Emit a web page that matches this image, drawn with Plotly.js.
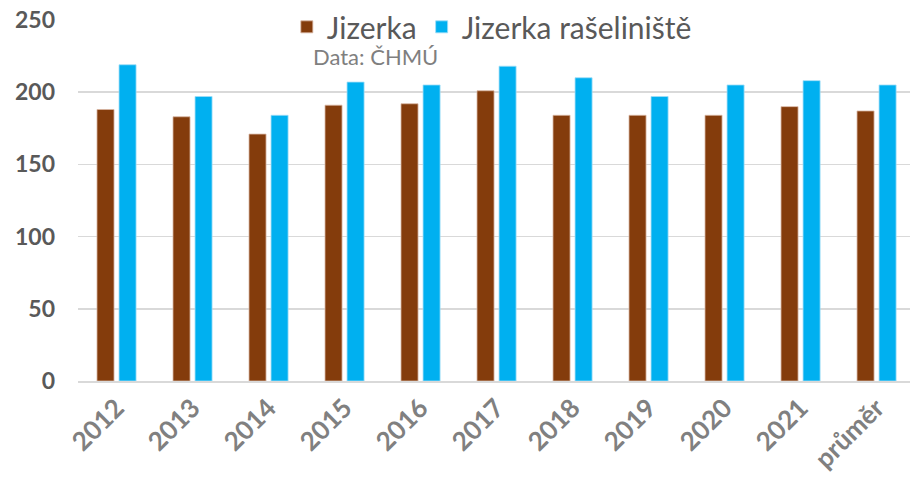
<!DOCTYPE html>
<html>
<head>
<meta charset="utf-8">
<script src="https://cdn.plot.ly/plotly-3.0.1.min.js"></script>
<style>html,body{margin:0;padding:0;background:#fff;}#chart{width:910px;height:483px;}</style>
</head>
<body>
<div id="chart"></div>
<script>
const categories = ["2012","2013","2014","2015","2016","2017","2018","2019","2020","2021","průměr"];
const jizerka = [188,183,171,191,192,201,184,184,184,190,187];
const jizerkaRaseliniste = [219,197,184,207,205,218,210,197,205,208,205];
const seriesNames = ["Jizerka","Jizerka rašeliniště"];
const sourceNote = "Data: ČHMÚ";

const font = "Lato, 'Open Sans', sans-serif";

const traces = [
  {type:"bar", name:seriesNames[0], x:categories, y:jizerka,
   marker:{color:"#843C0C", line:{color:"#D9B8A5", width:0.8}}},
  {type:"bar", name:seriesNames[1], x:categories, y:jizerkaRaseliniste,
   marker:{color:"#00B0F0", line:{color:"#9FDDF7", width:0.8}}}
];

const layout = {
  width:910, height:483,
  margin:{l:78, r:0, t:20, b:102, autoexpand:false},
  paper_bgcolor:"#fff", plot_bgcolor:"#fff",
  barmode:"group", bargap:0.42, bargroupgap:0.227,
  showlegend:true,
  legend:{orientation:"h", x:0.251, xanchor:"left", y:0.981, yanchor:"middle",
          bgcolor:"#fff", font:{family:font, size:30, color:"#595959"},
          itemwidth:30, traceorder:"normal", tracegroupgap:0},
  xaxis:{type:"category", range:[-0.507,10.44], showgrid:false, zeroline:false,
         showline:true, linecolor:"#d9d9d9", linewidth:1.5, ticks:"",
         tickangle:-45, tickfont:{family:font, size:26, color:"#808080", weight:"bold"}},
  yaxis:{range:[0,250], dtick:50, showgrid:true, gridcolor:"#d9d9d9", gridwidth:1.5,
         zeroline:false, ticks:"", ticklabelstandoff:22,
         tickfont:{family:font, size:23, color:"#595959", weight:"bold"}},
  annotations:[{text:sourceNote, xref:"paper", yref:"paper", x:0.358, y:0.898,
                xanchor:"center", yanchor:"middle", showarrow:false,
                font:{family:font, size:22, color:"#7f7f7f"}}]
};

Plotly.newPlot("chart", traces, layout, {displayModeBar:false, staticPlot:true});
</script>
</body>
</html>
